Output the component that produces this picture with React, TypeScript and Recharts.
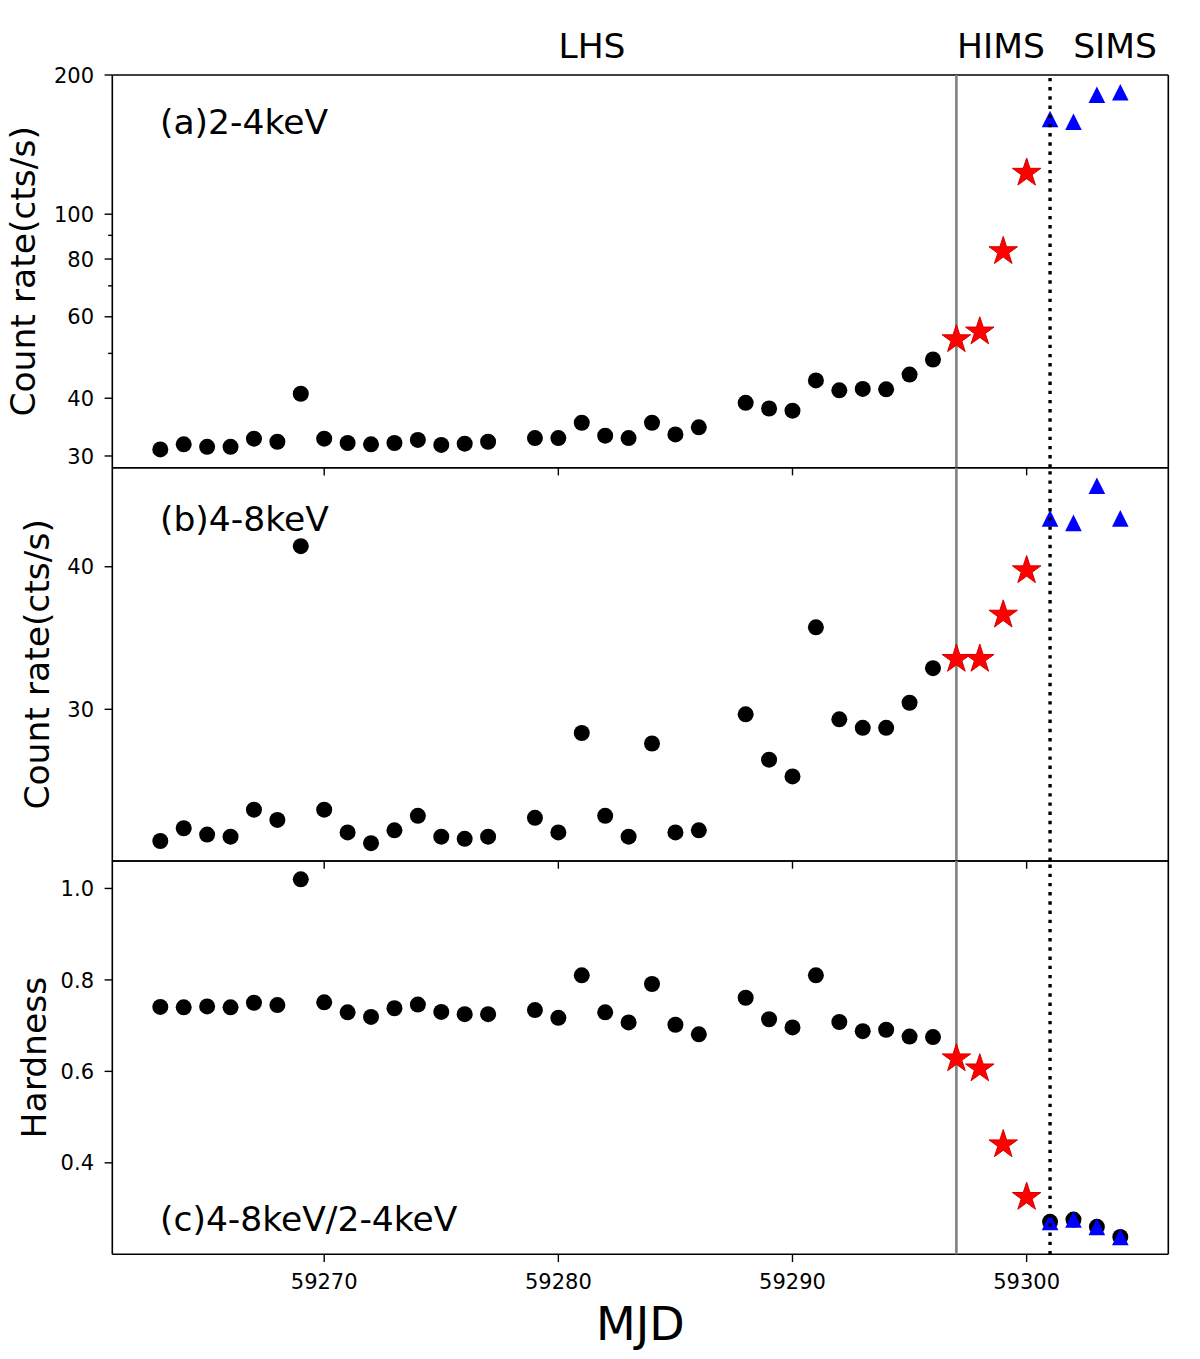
import React from 'react';
import { ScatterChart, Scatter, XAxis, YAxis, ReferenceLine } from 'recharts';

const FONT = '"DejaVu Sans", "Liberation Sans", sans-serif';

// ---- data ----
const lhsMjd = [
  59263, 59264, 59265, 59266, 59267, 59268, 59269, 59270, 59271, 59272, 59273, 59274, 59275, 59276, 59277,
  59279, 59280, 59281, 59282, 59283, 59284, 59285, 59286,
  59288, 59289, 59290, 59291, 59292, 59293, 59294, 59295, 59296,
];
const himsMjd = [59297, 59298, 59299, 59300];
const simsMjd = [59301, 59302, 59303, 59304];

// (a) 2-4 keV count rate
const lhsSoft = [
  31.0, 31.8, 31.4, 31.4, 32.7, 32.2, 40.9, 32.7, 32.0, 31.8, 32.0, 32.5, 31.7, 31.9, 32.2,
  32.8, 32.8, 35.4, 33.2, 32.8, 35.4, 33.4, 34.6,
  39.1, 38.0, 37.6, 43.7, 41.6, 41.9, 41.8, 45.0, 48.5,
];
const himsSoft = [53.6, 55.7, 83.1, 122.8];
const simsSoft = [160.6, 158.5, 181.2, 183.6];

// (b) 4-8 keV count rate
const lhsHard = [
  23.0, 23.6, 23.3, 23.2, 24.5, 24.0, 41.7, 24.5, 23.4, 22.9, 23.5, 24.2, 23.2, 23.1, 23.2,
  24.1, 23.4, 28.6, 24.2, 23.2, 28.0, 23.4, 23.5,
  29.7, 27.1, 26.2, 35.4, 29.4, 28.9, 28.9, 30.4, 32.6,
];
const himsHard = [33.2, 33.2, 36.3, 39.7];
const simsHard = [44.1, 43.7, 47.1, 44.1];

// (c) hardness ratio
const lhsRatio = [
  0.741, 0.740, 0.742, 0.740, 0.750, 0.745, 1.020, 0.751, 0.729, 0.719, 0.738, 0.746, 0.730, 0.725, 0.725,
  0.734, 0.717, 0.810, 0.729, 0.707, 0.791, 0.702, 0.681,
  0.761, 0.714, 0.696, 0.810, 0.708, 0.688, 0.691, 0.676, 0.675,
];
const himsRatio = [0.628, 0.606, 0.440, 0.325];
const simsRatio = [0.271, 0.276, 0.260, 0.238];

const xTicks = [59270, 59280, 59290, 59300];
const softTicks = [30, 40, 50, 60, 70, 80, 90, 100, 200];
const softLabeled = [30, 40, 60, 80, 100, 200];
const hardTicks = [30, 40];
const ratioTicks = [0.4, 0.6, 0.8, 1.0];

const HIMS_START = 59297;
const SIMS_START = 59301;

const X_DOMAIN: [number, number] = [59260.95, 59306.05];
const SOFT_DOMAIN: [number, number] = [28.3, 200];
const HARD_DOMAIN: [number, number] = [22.09, 48.85];
const RATIO_DOMAIN: [number, number] = [0.2, 1.06];

const pts = (xs: number[], ys: number[]) => xs.map((x, i) => ({ x, y: ys[i] }));

// ---- layout ----
const W = 1200;
const PLOT_LEFT = 112.3;
const PLOT_RIGHT = 1168.3;
const PANEL_EDGES = [75, 467.7, 861, 1254.3];
const AXIS_W = 1.6;

// ---- marker shapes ----
const CircleShape = (p: any) => <circle cx={p.cx} cy={p.cy} r={8} fill="#000" />;

const StarShape = (p: any) => {
  const R = 15;
  const r = R * 0.381966;
  const pts2: string[] = [];
  for (let i = 0; i < 10; i++) {
    const a = (-90 + 36 * i) * (Math.PI / 180);
    const rr = i % 2 === 0 ? R : r;
    pts2.push(`${p.cx + rr * Math.cos(a)},${p.cy + rr * Math.sin(a)}`);
  }
  return <polygon points={pts2.join(' ')} fill="#ff0000" stroke="#d40000" strokeWidth={1} strokeLinejoin="miter" />;
};

const triPath = (cx: number, cy: number) => {
  const h = 8.3;
  return `M${cx},${cy - h} L${cx - h},${cy + h} L${cx + h},${cy + h} Z`;
};

const TriShape = (p: any) => <path d={triPath(p.cx, p.cy)} fill="#0000ff" />;

// in the hardness panel the SIMS points also carry a black dot underneath
const TriOverDotShape = (p: any) => (
  <g>
    <circle cx={p.cx} cy={p.cy} r={8} fill="#000" />
    <path d={triPath(p.cx, p.cy)} fill="#0000ff" />
  </g>
);

// ---- ticks ----
const makeYTick = (labeled: number[], fmt: (v: number) => string) => (props: any) => {
  const { x, y, payload } = props;
  const ax = x + 10;
  const major = labeled.includes(payload.value);
  const len = major ? 7.7 : 4.2;
  return (
    <g>
      <line x1={ax - len} x2={ax} y1={y} y2={y} stroke="#000" strokeWidth={1.4} />
      {major && (
        <text x={ax - 18.3} y={y} dy={7.6} textAnchor="end" fontSize={21} fontFamily={FONT} fill="#000">
          {fmt(payload.value)}
        </text>
      )}
    </g>
  );
};

const EmptyTick = () => <g />;

const XLabelTick = (props: any) => {
  const { x, y, payload } = props;
  return (
    <text x={x} y={y} dy={26.7} textAnchor="middle" fontSize={21} fontFamily={FONT} fill="#000">
      {String(payload.value)}
    </text>
  );
};

type PanelProps = {
  index: number;
  chartHeight: number;
  yScale: 'log' | 'linear';
  yDomain: [number, number];
  yTicks: number[];
  yLabeled: number[];
  yFmt: (v: number) => string;
  circles: { x: number; y: number }[];
  stars: { x: number; y: number }[];
  tris: { x: number; y: number }[];
  triShape: (p: any) => React.ReactElement;
  showXLabels: boolean;
};

const Panel = (p: PanelProps) => {
  const top = PANEL_EDGES[p.index];
  const bottom = PANEL_EDGES[p.index + 1];
  return (
    <div style={{ position: 'absolute', left: 0, top: 0 }}>
      <ScatterChart
        width={W}
        height={p.chartHeight}
        margin={{ top, right: W - PLOT_RIGHT, bottom: 0, left: 0 }}
      >
        <XAxis
          type="number"
          dataKey="x"
          domain={X_DOMAIN}
          allowDataOverflow
          ticks={xTicks}
          height={p.chartHeight - bottom}
          tickSize={7.7}
          tickMargin={0}
          tickLine={{ stroke: '#000', strokeWidth: 1.4 }}
          axisLine={{ stroke: '#000', strokeWidth: AXIS_W }}
          tick={p.showXLabels ? XLabelTick : EmptyTick}
          interval={0}
        />
        <YAxis
          type="number"
          dataKey="y"
          scale={p.yScale}
          domain={p.yDomain}
          allowDataOverflow
          ticks={p.yTicks}
          width={PLOT_LEFT}
          tickSize={8}
          tickMargin={2}
          tickLine={false}
          axisLine={{ stroke: '#000', strokeWidth: AXIS_W }}
          tick={makeYTick(p.yLabeled, p.yFmt)}
          interval={0}
        />
        <ReferenceLine y={p.yDomain[1]} stroke="#000" strokeWidth={AXIS_W} zIndex={550} />
        <ReferenceLine x={X_DOMAIN[1]} stroke="#000" strokeWidth={AXIS_W} zIndex={550} />
        <ReferenceLine x={HIMS_START} stroke="#808080" strokeWidth={2.6} zIndex={550} />
        <Scatter data={p.circles} shape={CircleShape} isAnimationActive={false} />
        <Scatter data={p.stars} shape={StarShape} isAnimationActive={false} />
        <Scatter data={p.tris} shape={p.triShape} isAnimationActive={false} />
        <ReferenceLine
          x={SIMS_START}
          stroke="#000"
          strokeWidth={3.4}
          strokeDasharray="3.4 5.8"
          zIndex={700}
        />
      </ScatterChart>
    </div>
  );
};

const stateLabels = [
  { text: 'LHS', x: 592 },
  { text: 'HIMS', x: 1001 },
  { text: 'SIMS', x: 1115 },
];

export default function App() {
  const intFmt = (v: number) => String(v);
  const ratioFmt = (v: number) => v.toFixed(1);
  const midA = (PANEL_EDGES[0] + PANEL_EDGES[1]) / 2;
  const midB = (PANEL_EDGES[1] + PANEL_EDGES[2]) / 2;
  const midC = (PANEL_EDGES[2] + PANEL_EDGES[3]) / 2;
  return (
    <div style={{ position: 'absolute', left: 0, top: 0, width: W, height: 1359, background: '#fff' }}>
      <Panel
        index={0}
        chartHeight={480}
        yScale="log"
        yDomain={SOFT_DOMAIN}
        yTicks={softTicks}
        yLabeled={softLabeled}
        yFmt={intFmt}
        circles={pts(lhsMjd, lhsSoft)}
        stars={pts(himsMjd, himsSoft)}
        tris={pts(simsMjd, simsSoft)}
        triShape={TriShape}
        showXLabels={false}
      />
      <Panel
        index={1}
        chartHeight={873}
        yScale="log"
        yDomain={HARD_DOMAIN}
        yTicks={hardTicks}
        yLabeled={hardTicks}
        yFmt={intFmt}
        circles={pts(lhsMjd, lhsHard)}
        stars={pts(himsMjd, himsHard)}
        tris={pts(simsMjd, simsHard)}
        triShape={TriShape}
        showXLabels={false}
      />
      <Panel
        index={2}
        chartHeight={1359}
        yScale="linear"
        yDomain={RATIO_DOMAIN}
        yTicks={ratioTicks}
        yLabeled={ratioTicks}
        yFmt={ratioFmt}
        circles={pts(lhsMjd, lhsRatio)}
        stars={pts(himsMjd, himsRatio)}
        tris={pts(simsMjd, simsRatio)}
        triShape={TriOverDotShape}
        showXLabels={true}
      />
      <svg
        width={W}
        height={1359}
        style={{ position: 'absolute', left: 0, top: 0, pointerEvents: 'none' }}
      >
        <g fontFamily={FONT} fill="#000">
          {stateLabels.map((s) => (
            <text key={s.text} x={s.x} y={58} fontSize={34.5} textAnchor="middle">
              {s.text}
            </text>
          ))}
          <text x={160} y={134} fontSize={34.5}>(a)2-4keV</text>
          <text x={160} y={530.5} fontSize={34.5}>(b)4-8keV</text>
          <text x={160} y={1231} fontSize={34.5}>(c)4-8keV/2-4keV</text>
          <text transform="rotate(-90)" x={-midA} y={35} fontSize={34.5} textAnchor="middle">
            Count rate(cts/s)
          </text>
          <text transform="rotate(-90)" x={-midB} y={49} fontSize={34.5} textAnchor="middle">
            Count rate(cts/s)
          </text>
          <text transform="rotate(-90)" x={-midC} y={46} fontSize={34.5} textAnchor="middle">
            Hardness
          </text>
          <text x={(PLOT_LEFT + PLOT_RIGHT) / 2} y={1340} fontSize={46} textAnchor="middle">
            MJD
          </text>
        </g>
      </svg>
    </div>
  );
}
